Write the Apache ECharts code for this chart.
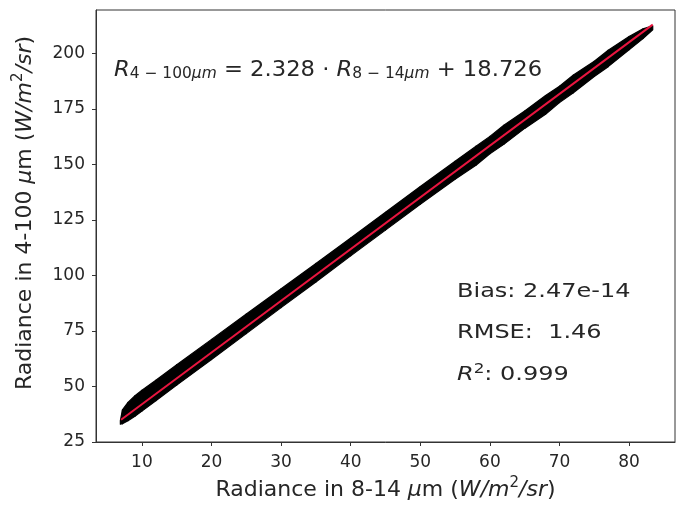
<!DOCTYPE html>
<html>
<head>
<meta charset="utf-8">
<script src="https://cdn.jsdelivr.net/npm/echarts@6/dist/echarts.min.js"></script>
<style>
  html, body { margin: 0; padding: 0; background: #fff; }
  #chart { width: 681px; height: 505px; }
</style>
</head>
<body>
<div id="chart"></div>
<script>
// band of scatter points: lower / upper edge at each x
const bandX    = [6.9, 7.2, 8, 9, 10, 12, 15, 20, 25, 30, 35, 40, 45, 50, 55, 58, 60, 62, 65, 68, 70, 72, 75, 77, 80, 82, 83.4]
const bandLow  = [33.0, 33.2, 34.6, 36.6, 38.9, 43.6, 50.6, 62.1, 73.8, 85.5, 97.0, 108.8, 120.4, 132.0, 143.3, 149.6, 154.8, 159.0, 166.2, 172.6, 177.8, 182.2, 189.6, 194.0, 201.6, 206.6, 210.6]
const bandHigh = [34.6, 39.5, 42.8, 45.8, 48.3, 52.8, 59.8, 71.2, 82.6, 94.0, 105.4, 116.8, 128.4, 140.0, 151.4, 158.2, 162.6, 167.6, 174.0, 181.0, 185.2, 190.2, 196.4, 201.4, 207.6, 211.0, 212.4]

// fitted line end points
const fitX = [7.0, 83.4]
const fitY = [35.0, 212.9]

const xTicks = [10, 20, 30, 40, 50, 60, 70, 80]
const yTicks = [25, 50, 75, 100, 125, 150, 175, 200]

const FONT = 'DejaVu Sans'
const TXT = '#262626'

const chart = echarts.init(document.getElementById('chart'))

// rich styles for the axis titles (italic units, raised 2)
const nameRich = {
  it: { fontFamily: FONT, fontSize: 22, fontStyle: 'italic', color: TXT, lineHeight: 28 },
  sup: { fontFamily: FONT, fontSize: 15, color: TXT, verticalAlign: 'top', lineHeight: 14 },
}

chart.setOption({
  backgroundColor: '#fff',
  animation: false,
  grid: {
    left: 96, right: 6, top: 10, bottom: 63,
    outerBoundsMode: 'none', containLabel: false,
    show: true, borderColor: '#333', borderWidth: 1,
  },
  xAxis: {
    type: 'value',
    min: 3.4, max: 86.6,
    interval: 10,
    name: 'Radiance in 8-14 {it|μ}m ({it|W/m}{sup|2}{it|/sr})',
    nameLocation: 'middle',
    nameGap: 33,
    nameTextStyle: { fontFamily: FONT, fontSize: 22, color: TXT, lineHeight: 28, rich: nameRich },
    splitLine: { show: false },
    axisLine: { show: true, onZero: false, lineStyle: { color: '#333', width: 1 } },
    axisTick: { show: true, length: 4, lineStyle: { color: '#333' }, customValues: xTicks },
    axisLabel: { fontFamily: FONT, fontSize: 17, color: TXT, margin: 12, customValues: xTicks },
  },
  yAxis: {
    type: 'value',
    min: 25, max: 219.5,
    name: 'Radiance in 4-100 {it|μ}m ({it|W/m}{sup|2}{it|/sr})',
    nameLocation: 'middle',
    nameGap: 57,
    nameTextStyle: { fontFamily: FONT, fontSize: 22, color: TXT, lineHeight: 28, rich: nameRich, padding: [0, 0, 0, 26] },
    splitLine: { show: false },
    axisLine: { show: true, onZero: false, lineStyle: { color: '#333', width: 1 } },
    axisTick: { show: true, length: 4, lineStyle: { color: '#333' }, customValues: yTicks },
    axisLabel: { fontFamily: FONT, fontSize: 17, color: TXT, margin: 11, customValues: yTicks },
  },
  graphic: [
    {
      type: 'text', x: 114, y: 70, scaleX: 1.03,
      style: {
        text: '{it|R}{sub|4 − 100}{subi|μm}{n| = 2.328 · }{it|R}{sub|8 − 14}{subi|μm}{n| + 18.726}',
        fontFamily: FONT, fontSize: 22, fill: TXT, verticalAlign: 'middle',
        rich: {
          n: { fontFamily: FONT, fontSize: 22, fill: TXT, lineHeight: 24 },
          it: { fontFamily: FONT, fontSize: 22, fontStyle: 'italic', fill: TXT, lineHeight: 24 },
          sub: { fontFamily: FONT, fontSize: 15, fill: TXT, verticalAlign: 'bottom', lineHeight: 13 },
          subi: { fontFamily: FONT, fontSize: 15, fontStyle: 'italic', fill: TXT, verticalAlign: 'bottom', lineHeight: 13 },
        },
      },
    },
    { type: 'text', x: 457, y: 292, scaleX: 1.2, style: { text: 'Bias: 2.47e-14', fontFamily: FONT, fontSize: 20, fill: TXT, verticalAlign: 'middle' } },
    { type: 'text', x: 457, y: 333, scaleX: 1.2, style: { text: 'RMSE:  1.46', fontFamily: FONT, fontSize: 20, fill: TXT, verticalAlign: 'middle' } },
    {
      type: 'text', x: 457, y: 375, scaleX: 1.2,
      style: {
        text: '{it|R}{sup|2}{n|: 0.999}',
        fontFamily: FONT, fontSize: 20, fill: TXT, verticalAlign: 'middle',
        rich: {
          n: { fontFamily: FONT, fontSize: 20, fill: TXT, lineHeight: 26 },
          it: { fontFamily: FONT, fontSize: 20, fontStyle: 'italic', fill: TXT, lineHeight: 26 },
          sup: { fontFamily: FONT, fontSize: 14, fill: TXT, verticalAlign: 'top', lineHeight: 12 },
        },
      },
    },
  ],
  series: [
    {
      type: 'custom',
      data: bandX.map((x, i) => [x, bandLow[i], bandHigh[i]]),
      renderItem: (params, api) => {
        const i = params.dataIndex
        if (i >= bandX.length - 1) return
        const pts = [
          api.coord([bandX[i], bandLow[i]]),
          api.coord([bandX[i + 1], bandLow[i + 1]]),
          api.coord([bandX[i + 1], bandHigh[i + 1]]),
          api.coord([bandX[i], bandHigh[i]]),
        ]
        return {
          type: 'polygon',
          shape: { points: pts },
          style: { fill: '#000', stroke: '#000', lineWidth: 1.2, lineJoin: 'round' },
        }
      },
      z: 2,
    },
    {
      type: 'line',
      data: fitX.map((x, i) => [x, fitY[i]]),
      symbol: 'none',
      lineStyle: { color: '#e8153f', width: 2 },
      z: 3,
    },
  ],
})
</script>
</body>
</html>
